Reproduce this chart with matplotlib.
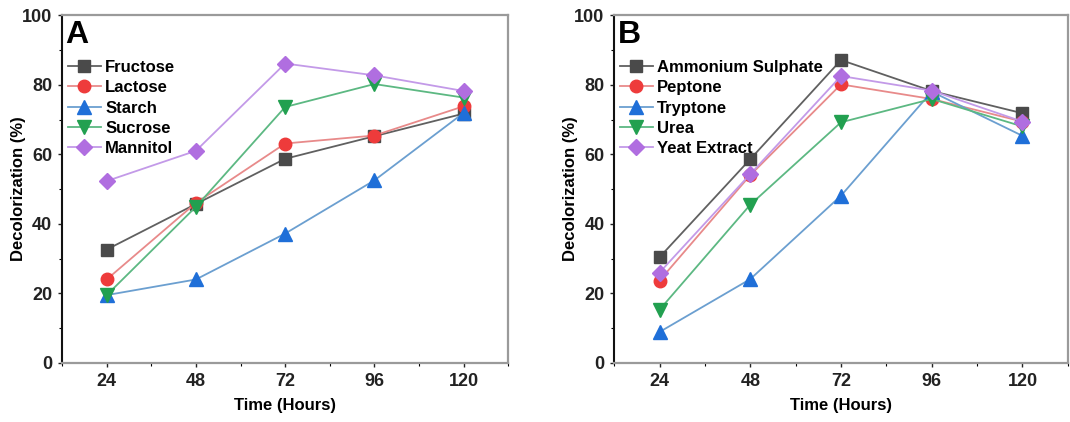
import matplotlib
matplotlib.use("Agg")
import matplotlib.pyplot as plt
from matplotlib.ticker import MultipleLocator

plt.rcParams['font.family'] = ['Liberation Sans', 'DejaVu Sans']
plt.rcParams['font.weight'] = 'bold'

hours = [24, 48, 72, 96, 120]

# Panel A: carbon sources
a_names = ["Fructose", "Lactose", "Starch", "Sucrose", "Mannitol"]
fructose = [32.6, 45.7, 58.7, 65.2, 71.7]
lactose = [24.0, 46.0, 63.1, 65.4, 73.8]
starch = [19.5, 24.0, 37.2, 52.5, 71.9]
sucrose = [19.5, 44.9, 73.6, 80.2, 76.3]
mannitol = [52.3, 61.0, 86.1, 82.7, 78.2]

# Panel B: nitrogen sources
b_names = ["Ammonium Sulphate", "Peptone", "Tryptone", "Urea", "Yeat Extract"]
ammonium = [30.4, 58.6, 87.1, 78.2, 71.8]
peptone = [23.7, 54.0, 80.1, 75.9, 69.4]
tryptone = [8.9, 24.1, 48.1, 78.0, 65.3]
urea = [15.3, 45.5, 69.2, 75.9, 68.0]
yeast = [26.0, 54.3, 82.5, 78.3, 69.4]

markers = ['s', 'o', '^', 'v', 'D']
marker_colors = ['#4a4a4a', '#ee3b3b', '#1f6fd8', '#22a050', '#b06ee0']
line_colors = ['#606060', '#e88a8a', '#6b9fd0', '#5cb882', '#c39ae8']
marker_sizes = [8, 9, 10, 10, 8]

fig = plt.figure(figsize=(10.7, 4.22), dpi=100)
axA = fig.add_axes([0.058, 0.140, 0.417, 0.824])
axB = fig.add_axes([0.574, 0.140, 0.424, 0.824])


def draw(ax, names, series, label):
    for i, (nm, ys) in enumerate(zip(names, series)):
        ax.plot(hours, ys, color=line_colors[i], lw=1.3, marker=markers[i],
                markersize=marker_sizes[i], markerfacecolor=marker_colors[i],
                markeredgecolor=marker_colors[i], label=nm)
    ax.set_xlim(12, 132)
    ax.set_ylim(0, 100)
    ax.set_xticks(hours)
    ax.xaxis.set_minor_locator(MultipleLocator(12))
    ax.yaxis.set_major_locator(MultipleLocator(20))
    ax.yaxis.set_minor_locator(MultipleLocator(10))
    ax.tick_params(axis='both', which='major', direction='out', length=3,
                   width=1, labelsize=13, colors='#222222', pad=4)
    ax.tick_params(axis='both', which='minor', direction='out', length=2, width=0.8)
    for lab in ax.get_xticklabels() + ax.get_yticklabels():
        lab.set_fontweight('bold')
    for s in ['top', 'right', 'bottom']:
        ax.spines[s].set_color('#9a9a9a')
        ax.spines[s].set_linewidth(1.6)
    ax.spines['left'].set_color('#111111')
    ax.spines['left'].set_linewidth(1.5)
    ax.set_xlabel("Time (Hours)", fontsize=12, fontweight='bold', labelpad=6)
    ax.set_ylabel("Decolorization (%)", fontsize=12, fontweight='bold', labelpad=-3)
    ax.text(0.008, 0.985, label, transform=ax.transAxes, fontsize=23,
            fontweight='bold', va='top', ha='left', color='black')
    leg = ax.legend(loc='upper left', bbox_to_anchor=(-0.01, 0.90), frameon=False,
                    fontsize=12, handlelength=2.0, handletextpad=0.25,
                    labelspacing=0.32, borderaxespad=0.2)
    for t in leg.get_texts():
        t.set_fontweight('bold')


draw(axA, a_names, [fructose, lactose, starch, sucrose, mannitol], "A")
draw(axB, b_names, [ammonium, peptone, tryptone, urea, yeast], "B")

fig.savefig("out.png", dpi=100)
